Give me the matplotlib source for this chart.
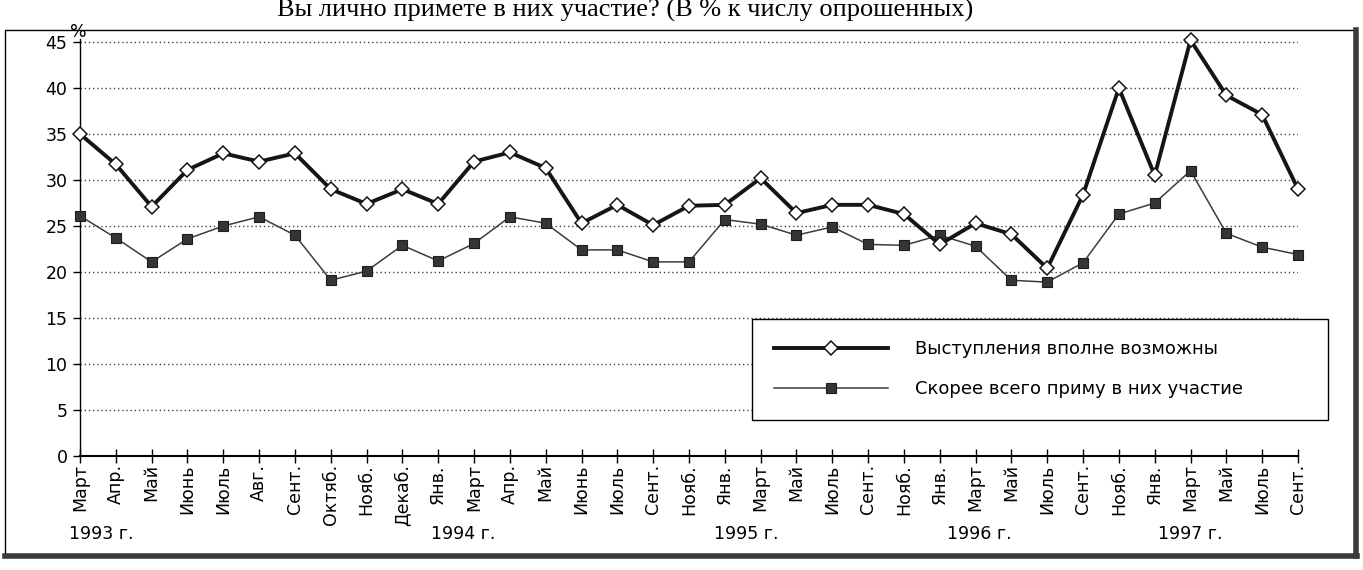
import matplotlib
matplotlib.use('Agg')
import matplotlib.pyplot as plt
from matplotlib.lines import Line2D
from matplotlib.patches import Rectangle

# ---- data ----
months = ['Март', 'Апр.', 'Май', 'Июнь', 'Июль', 'Авг.', 'Сент.', 'Октяб.', 'Нояб.', 'Декаб.',
          'Янв.', 'Март', 'Апр.', 'Май', 'Июнь', 'Июль', 'Сент.', 'Нояб.',
          'Янв.', 'Март', 'Май', 'Июль', 'Сент.', 'Нояб.',
          'Янв.', 'Март', 'Май', 'Июль', 'Сент.', 'Нояб.',
          'Янв.', 'Март', 'Май', 'Июль', 'Сент.']

possible = [35.0, 31.7, 27.1, 31.1, 32.9, 32.0, 32.9, 29.0, 27.4,
            29.0, 27.4, 32.0, 33.0, 31.3, 25.3, 27.3, 25.1, 27.2,
            27.3, 30.2, 26.4, 27.3, 27.3, 26.3, 23.0, 25.3,
            24.1, 20.4, 28.4, 40.0, 30.5, 45.2, 39.2, 37.1, 29.0]

participate = [26.1, 23.7, 21.1, 23.6, 25.0, 26.0, 24.0, 19.1, 20.1,
               22.9, 21.2, 23.1, 26.0, 25.3, 22.4, 22.4, 21.1, 21.1,
               25.7, 25.2, 24.0, 24.9, 23.0, 22.9, 24.0, 22.8,
               19.1, 18.9, 21.0, 26.3, 27.5, 31.0, 24.2, 22.7, 21.9]

years = ['1993 г.', '1994 г.', '1995 г.', '1996 г.', '1997 г.']
year_pos = [0.6, 10.7, 18.6, 25.1, 31.0]

label_possible = 'Выступления вполне возможны'
label_participate = 'Скорее всего приму в них участие'
title = 'Вы лично примете в них участие? (В % к числу опрошенных)'

yticks = [0, 5, 10, 15, 20, 25, 30, 35, 40, 45]

# ---- figure ----
plt.rcParams['font.family'] = ['DejaVu Sans']
W, H = 1363, 570
fig = plt.figure(figsize=(W / 100, H / 100), dpi=100)
fig.patch.set_facecolor('white')

ax_left, ax_right = 80, 1298
ax_bottom, ax_top = 456, 37.4
ax = fig.add_axes([ax_left / W, 1 - ax_bottom / H, (ax_right - ax_left) / W, (ax_bottom - ax_top) / H])

x = list(range(len(months)))

for v in yticks[1:]:
    ax.axhline(v, color='#444444', lw=1.0, ls=(0, (1, 2)), zorder=1)

h_sq, = ax.plot(x, participate, color='#3c3c3c', lw=1.1, marker='s', ms=7,
                mfc='#353535', mec='#1e1e1e', mew=0.8, clip_on=False, zorder=3,
                label=label_participate)
h_dm, = ax.plot(x, possible, color='#151515', lw=2.8, marker='D', ms=7,
                mfc='white', mec='#151515', mew=1.1, clip_on=False, zorder=4,
                label=label_possible)

ax.set_xlim(0, 34)
ax.set_ylim(0, 45.5)
ax.set_yticks(yticks)
ax.set_yticklabels([str(v) for v in yticks], fontsize=12.5)
ax.set_xticks(x)
ax.set_xticklabels(months, rotation=90, fontsize=12.5)

for s in ['top', 'right']:
    ax.spines[s].set_visible(False)
ax.spines['left'].set_linewidth(1.0)
ax.spines['bottom'].set_linewidth(1.5)
ax.spines['left'].set_bounds(0, 45.3)

ax.tick_params(axis='x', direction='inout', length=10, width=1.0, pad=1)
ax.tick_params(axis='y', direction='out', length=5, width=1.0, pad=4)

ax.annotate('%', xy=(0, 45), xytext=(-1, 1), textcoords='offset points',
            ha='center', va='bottom', fontsize=12.5)

tr = ax.get_xaxis_transform()
for yl, p in zip(years, year_pos):
    ax.text(p, (ax_bottom - 534) / (ax_bottom - ax_top), yl, transform=tr,
            ha='center', va='center', fontsize=12.5)

leg = ax.legend(handles=[h_dm, h_sq], loc='center',
                bbox_to_anchor=(0.552, 0.088, 0.473, 0.239), mode='expand',
                borderaxespad=0, fontsize=13, handlelength=6.3, handletextpad=1.5,
                labelspacing=1.2, borderpad=1.2, frameon=True, fancybox=False,
                edgecolor='black', framealpha=1)
leg.get_frame().set_linewidth(1.0)

# frame of the scanned chart
fig.add_artist(Rectangle((5 / W, 1 - 555 / H), 1350 / W, (555 - 30) / H,
                         transform=fig.transFigure, fill=False, lw=1.0, ec='black'))
fig.add_artist(Line2D([5 / W, 1357 / W], [1 - 556 / H, 1 - 556 / H],
                      transform=fig.transFigure, lw=4, color='#3a3a3a'))
fig.add_artist(Line2D([1356 / W, 1356 / W], [1 - 556 / H, 1 - 30 / H],
                      transform=fig.transFigure, lw=4, color='#3a3a3a'))

fig.text(625 / W, 1 - 17 / H, title, ha='center', va='baseline',
         fontsize=19, family='Liberation Serif')

fig.savefig('out.png', dpi=100)
